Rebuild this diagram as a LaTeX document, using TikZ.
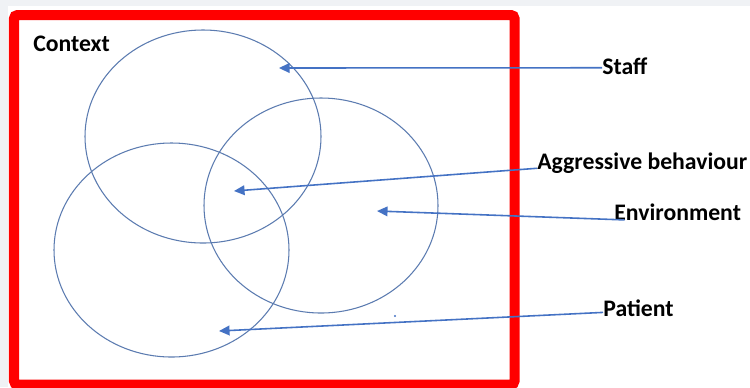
\documentclass[tikz,border=0pt]{standalone}
\usepackage{fontspec}
\setmainfont{Carlito}
\usepackage{tikz}
\usetikzlibrary{arrows.meta}
\definecolor{ringblue}{HTML}{5B7BB0}
\definecolor{arrowblue}{HTML}{4472C4}
\definecolor{framered}{HTML}{FF0000}
\definecolor{pagegray}{HTML}{F0F2F5}

\begin{document}
\begin{tikzpicture}[x=0.02cm,y=-0.02cm,>={Triangle[length=6pt,width=5.5pt]},
  ring/.style={ringblue,line width=0.6pt},
  pointer/.style={->,arrowblue,line width=0.9pt},
  tag/.style={font=\fontsize{13.5}{15}\selectfont\bfseries,inner sep=0pt,anchor=west}]
  \useasboundingbox (0,0) rectangle (750,387);
  \fill[white] (0,0) rectangle (750,387);
  \fill[pagegray] (0,0) rectangle (750,6);
  \fill[pagegray] (0,0) rectangle (8,387);
  % context frame
  \draw[framered,line width=5.7pt,rounded corners=2pt] (14,15) rectangle (514.5,384.5);
  \node[tag] (context) at (33,44) {Context};
  % the three rings
  \draw[ring] (203,136.5) ellipse [x radius=118,y radius=106.5];
  \draw[ring] (321,205.5) ellipse [x radius=117,y radius=107.5];
  \draw[ring] (171.5,250) ellipse [x radius=117.5,y radius=107];
  \fill[arrowblue] (395,316) circle [radius=0.6pt];
  % labels
  \node[tag] (staff) at (602,66) {Staff};
  \node[tag] (aggr) at (537,163) {Aggressive behaviour};
  \node[tag] (env) at (614,212) {Environment};
  \node[tag] (patient) at (603,308) {Patient};
  \coordinate (staffpt) at (279,68);
  \coordinate (aggrpt) at (234,191);
  \coordinate (envpt) at (377,211);
  \coordinate (patientpt) at (219,331);
  % pointers
  \draw[pointer] ([yshift=-1pt]staff.west) -- (staffpt);
  \draw[pointer] ([yshift=-3pt]aggr.west) -- (aggrpt);
  \draw[pointer] ([xshift=6pt,yshift=-4.5pt]env.west) -- (envpt);
  \draw[pointer] ([yshift=-2.5pt]patient.west) -- (patientpt);
\end{tikzpicture}
\end{document}
